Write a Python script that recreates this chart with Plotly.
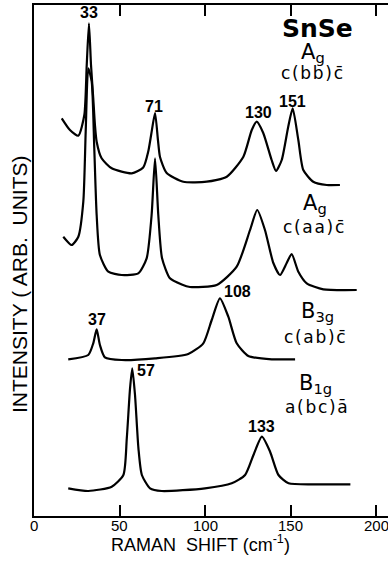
import plotly.graph_objects as go

# Raman shift (cm^-1) and intensity (arb. units, vertically offset traces)
x_bb = [16.2, 21.0, 25.9, 29.4, 30.8, 32.1, 33.3, 34.6, 35.6, 36.6, 39.5, 45.4, 57.1, 63.8, 66.8, 68.6, 70.7,
        72.4, 73.6, 77.5, 87.2, 100.9, 112.6, 122.3, 127.2, 130.1, 133.9, 138.8, 141.4, 144.7, 148.5, 151.1,
        154.4, 157.3, 163.1, 171.0, 178.7]
y_bb = [397.7, 386, 380.3, 401, 451, 492.7, 451, 418, 391, 374.3, 357.7, 347.7, 342.7, 348.5, 365, 383, 403,
        376, 359, 343, 334.3, 334.3, 339.3, 359.3, 386, 394.3, 383, 356, 345, 356, 389.3, 407.7,
        376, 346, 334.3, 331, 331]

x_aa = [17.1, 22.0, 25.9, 28.8, 30.2, 31.7, 33.7, 35.2, 36.6, 38.5, 43.4, 51.2, 60.9, 65.8, 68.7, 70.7, 72.6,
        74.8, 79.4, 86.3, 91.1, 106.7, 118.4, 126.2, 130.4, 134.9, 139.8, 143.7, 147.6, 150.5, 154.4, 159.3,
        169.0, 188.5]
y_aa = [279.3, 271, 279.3, 314.3, 384.3, 447.7, 434.3, 368, 301, 261, 244.3, 241, 242.7, 257.7, 301, 357.7, 301,
        257.7, 237.7, 231.5, 229, 231, 249.3, 286, 306, 286, 253, 241, 253, 262, 244.3, 232.7,
        226.7, 226]

x_ab = [20.0, 31.7, 34.6, 36.6, 38.5, 41.4, 51.2, 70.7, 90.1, 98.9, 103.8, 108.6, 113.5, 118.4, 125.2, 138.9, 152.5]
y_ab = [156.7, 161, 172.7, 186.7, 171, 158.7, 156, 157.7, 162, 172.7, 196, 217.7, 199.3, 172.7, 160, 156.7, 156.7]

x_bc = [20.0, 31.7, 45.4, 52.2, 54.2, 56.1, 57.4, 59.0, 61.0, 63.0, 67.8, 74.6, 99.9, 115.5, 123.3, 128.2, 133.1,
        137.9, 142.8, 148.7, 168.2, 184.8]
y_bc = [27.7, 25, 29.3, 41, 77.7, 127.7, 147.7, 121, 67.7, 41, 27.7, 25, 27.7, 32.7, 41, 61, 79.3,
        64.3, 41, 32.7, 31.7, 31.7]

tick_vals = [0, 50, 100, 150, 200]
tick_text = ["0", "50", "100", "150", "200"]

peak_labels = ["33", "71", "130", "151", "37", "108", "57", "133"]

W, H = 388, 561
L, R, T, B = 34, 0, 5, 45
PW, PH = W - L - R, H - T - B
X0, XPPU = 34, 85.6 / 50.0
XMAX = (W - R - X0) / XPPU
YMAX = PH


def px2paper(px, py):
    return (px - L) / PW, ((H - B) - py) / PH


fig = go.Figure()
for xs, ys in [(x_bb, y_bb), (x_aa, y_aa), (x_ab, y_ab), (x_bc, y_bc)]:
    fig.add_trace(go.Scatter(x=xs, y=ys, mode="lines",
                             line=dict(color="black", width=2.2, shape="spline", smoothing=0.6),
                             showlegend=False, hoverinfo="skip"))

FONT = "Liberation Sans"
WIDE = "DejaVu Sans"
anns = []


def add_text(text, px, py, size, bold=False, angle=0, family=FONT):
    xp, yp = px2paper(px, py)
    anns.append(dict(x=xp, y=yp, xref="paper", yref="paper", text=text, showarrow=False,
                     textangle=angle,
                     font=dict(family=family, size=size, color="black", weight="bold" if bold else "normal"),
                     xanchor="center", yanchor="middle"))


peak_pos = [(89, 12), (154, 106), (258, 112), (292, 101), (97, 319), (237, 291), (146, 370), (261, 426)]
for t, (px, py) in zip(peak_labels, peak_pos):
    add_text(t, px, py, 16, bold=True)

TS = "\u200a"
side = [
    ("SnSe", 317, 28, 25, True),
    ("A<sub>g</sub>", 313, 53, 21, False),
    (TS.join(["c", "(", "b", "b", ")", "c\u0304"]), 312, 73, 17, False),
    ("A<sub>g</sub>", 315, 204, 21, False),
    (TS.join(["c", "(", "a", "a", ")", "c\u0304"]), 313, 227, 17, False),
    ("B<sub>3g</sub>", 317, 312, 21, False),
    (TS.join(["c", "(", "a", "b", ")", "c\u0304"]), 315, 337, 17, False),
    ("B<sub>1g</sub>", 315, 384, 21, False),
    (TS.join(["a", "(", "b", "c", ")", "a\u0304"]), 316, 407, 17, False),
]
for t, px, py, sz, b in side:
    add_text(t, px, py, sz, bold=b, family=WIDE)

# tick labels placed on the x scale
for v, t in zip(tick_vals, tick_text):
    anns.append(dict(x=v, y=((H - B) - 526) / PH, xref="x", yref="paper", text=t, showarrow=False,
                     font=dict(family=FONT, size=15, color="black"), xanchor="center", yanchor="middle"))

add_text("RAMAN  SHIFT (cm<sup>-1</sup>)", 200, 543, 18)
add_text("INTENSITY ( ARB.  UNITS)", 19, 285, 21, angle=-90)

fig.update_layout(
    width=W, height=H, margin=dict(l=L, r=R, t=T, b=B),
    paper_bgcolor="white", plot_bgcolor="white",
    annotations=anns,
    xaxis=dict(range=[0, XMAX], tickvals=tick_vals, showticklabels=False, ticks="inside", ticklen=11,
               tickwidth=2, tickcolor="black", showline=True, linecolor="black", linewidth=2,
               mirror="ticks", showgrid=False, zeroline=False),
    yaxis=dict(range=[0, YMAX], showticklabels=False, ticks="", showline=True, linecolor="black",
               linewidth=2, showgrid=False, zeroline=False),
)

fig.write_html("out.html")
